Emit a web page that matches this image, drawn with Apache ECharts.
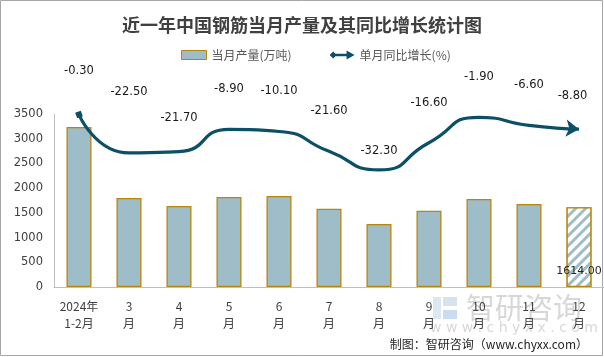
<!DOCTYPE html>
<html><head><meta charset="utf-8">
<script src="https://cdn.jsdelivr.net/npm/echarts@6/dist/echarts.min.js"></script>
<style>html,body{margin:0;padding:0;background:#fff}#c{width:604px;height:357px}</style>
</head><body><div id="c"></div>
<script>
const categories = ['2024年\n1-2月','3\n月','4\n月','5\n月','6\n月','7\n月','8\n月','9\n月','10\n月','11\n月','12\n月'];
const production = [3237,1800,1639,1821,1841,1584,1275,1544,1780,1679,1614];
const yoyGrowth = [-0.3,-22.5,-21.7,-8.9,-10.1,-21.6,-32.3,-16.6,-1.9,-6.6,-8.8];
const seriesNames = ['当月产量(万吨)','单月同比增长(%)'];
const titleText = '近一年中国钢筋当月产量及其同比增长统计图';
const sourceText = '制图：智研咨询（www.chyxx.com）';

const BAR = '#9fbdc9', BORDER = '#b8860b', LINE = '#0c5068';
const last = production.length - 1;
const barData = production.map((v,i)=> i===last ? {
  value:v,
  itemStyle:{color:'#fff', decal:{symbol:'rect',symbolSize:1,dashArrayX:[1,0],dashArrayY:[3,4],rotation:-Math.PI/4,color:BAR,backgroundColor:'#fff'}},
  label:{show:true}
} : v);
// label placement tweaks (style only, by point index)
const labelDistance = {1:55, 2:28, 6:13, 10:17};
const lineData = yoyGrowth.map((v,i)=> {
  const item = {value:v};
  if (i===0) Object.assign(item,{symbol:'rect', symbolSize:6, symbolRotate:20});
  if (i===yoyGrowth.length-1) Object.assign(item,{symbol:'arrow', symbolSize:[13,13], symbolRotate:-95});
  if (labelDistance[i]!==undefined) item.label = {distance: labelDistance[i]};
  return item;
});

const chart = echarts.init(document.getElementById('c'));
chart.setOption({
  animation:false,
  textStyle:{fontFamily:'DejaVu Sans'},
  title:{text:titleText,left:'center',top:11,textStyle:{fontSize:18,fontWeight:'bold',color:'#404040',fontFamily:'Noto Sans CJK SC'}},
  legend:{left:176,top:44,itemGap:38,itemWidth:25,itemHeight:9,
    textStyle:{fontSize:12,color:'#595959',fontFamily:'Noto Sans CJK SC'},
    data:[{name:seriesNames[0],icon:'rect',itemStyle:{color:BAR,borderColor:BORDER,borderWidth:1}},
          {name:seriesNames[1],icon:'path://M0,5 L4,1 L8,5 L4,9 Z M6,3.5 L19,3.5 L19,0 L28,5 L19,10 L19,6.5 L6,6.5 Z',itemWidth:28,itemHeight:10,itemStyle:{color:LINE}}]},
  grid:{left:54,right:0,top:114,bottom:70},
  xAxis:{type:'category',data:categories,
    axisLine:{lineStyle:{color:'#bfbfbf'}},axisTick:{show:false},
    axisLabel:{fontSize:12,color:'#404040',lineHeight:17,margin:11,interval:0,fontFamily:'Noto Sans CJK SC'}},
  yAxis:[{type:'value',min:0,max:3500,interval:500,
    axisLine:{show:true,lineStyle:{color:'#bfbfbf'}},axisTick:{show:false},splitLine:{show:false},
    axisLabel:{fontSize:11.5,color:'#404040',margin:11,formatter:v=>String(v)}},
    {type:'value',min:-100,max:0,show:false,splitLine:{show:false}}],
  series:[
    {name:seriesNames[0],type:'bar',data:barData,barWidth:25,
     itemStyle:{color:BAR,borderColor:BORDER,borderWidth:1.3},
     label:{show:false,position:'insideBottom',distance:10,fontSize:11,color:'#262626',formatter:p=>Number(p.value).toFixed(2)}},
    {name:seriesNames[1],type:'line',yAxisIndex:1,data:lineData,smooth:0.6,
     symbol:'circle',symbolSize:0.01,showSymbol:true,
     lineStyle:{color:LINE,width:3.2},itemStyle:{color:LINE},
     label:{show:true,position:'top',distance:34,fontSize:11.5,color:'#1a1a1a',formatter:p=>Number(p.value).toFixed(2)}}
  ],
  graphic:[
    {type:'rect',shape:{x:0.5,y:0.5,width:602,height:355},style:{fill:'none',stroke:'#a6a6a6',lineWidth:1},silent:true,z:-1},
    {type:'group',left:433,top:297,silent:true,z:-1,children:[
      {type:'rect',shape:{x:0,y:0,width:8,height:22},style:{fill:'rgba(120,160,200,0.25)'}},
      {type:'rect',shape:{x:10,y:0,width:14,height:9},style:{fill:'rgba(120,160,200,0.3)'}},
      {type:'rect',shape:{x:10,y:13,width:14,height:9},style:{fill:'rgba(80,140,220,0.3)'}}
    ]},
    {type:'text',left:466,top:293,silent:true,z:-1,style:{text:'智研咨询',font:'29px "Noto Sans CJK SC"',fill:'rgba(140,140,140,0.35)'}},
    {type:'text',left:430,top:321,silent:true,z:-1,style:{text:'w w w . c h y x x . c o m',font:'14px "DejaVu Sans"',fill:'rgba(140,140,140,0.35)'}},
    {type:'text',right:16,top:338,silent:true,style:{text:sourceText,font:'12px "Noto Sans CJK SC"',fill:'#262626'}}
  ]
});
</script></body></html>
